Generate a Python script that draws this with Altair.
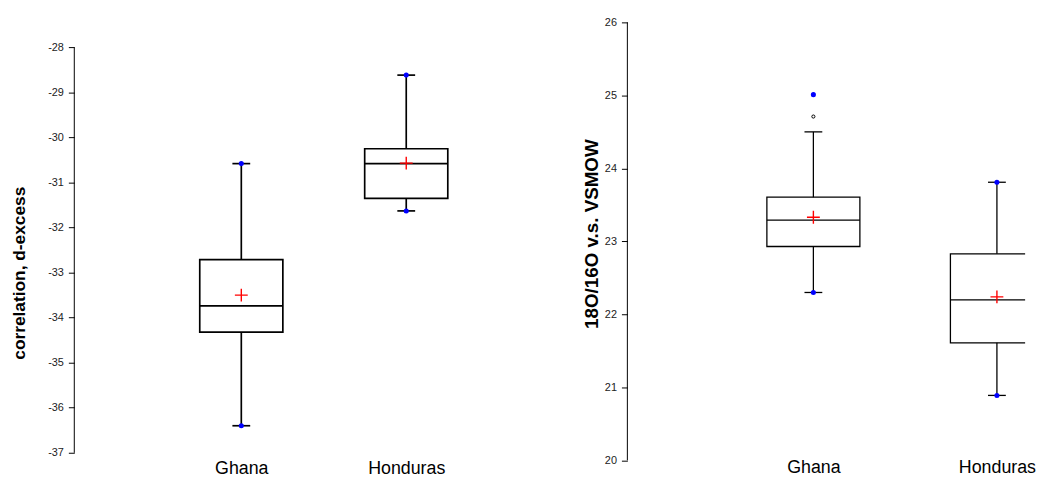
import altair as alt
import pandas as pd

groups = ["Ghana", "Honduras"]

# Left panel: correlation, d-excess
dx_wlow = [-36.40, -31.63]
dx_q1 = [-34.32, -31.35]
dx_median = [-33.74, -30.58]
dx_q3 = [-32.71, -30.25]
dx_whigh = [-30.58, -28.615]
dx_mean = [-33.50, -30.57]
dx_min = [-36.40, -31.63]
dx_max = [-30.58, -28.615]
dx_ticks = [-37, -36, -35, -34, -33, -32, -31, -30, -29, -28]

# Right panel: 18O/16O v.s. VSMOW
o_wlow = [22.30, 20.89]
o_q1 = [22.93, 21.61]
o_median = [23.29, 22.20]
o_q3 = [23.605, 22.83]
o_whigh = [24.50, 23.81]
o_mean = [23.33, 22.24]
o_min = [22.30, 20.89]
o_max = [25.01, 23.81]
o_out_group = ["Ghana"]
o_out_value = [24.71]
o_ticks = [20, 21, 22, 23, 24, 25, 26]

PLUS = "M-1,0L1,0M0,-1L0,1"


def panel(wlow, q1, med, q3, whigh, mean, vmin, vmax, out_g, out_v,
          title, domain, ticks, width, height, xrange, box_w, lw,
          title_size, title_pad, title_y, label_pad_x, x_font):
    stats = pd.DataFrame({"group": groups, "wlow": wlow, "q1": q1, "median": med,
                          "q3": q3, "whigh": whigh, "mean": mean})
    caps = pd.DataFrame({"group": groups + groups, "v": wlow + whigh})
    dots = pd.DataFrame({"group": groups + groups, "v": vmin + vmax})
    outl = pd.DataFrame({"group": out_g, "v": out_v})
    axis_line = pd.DataFrame({"lo": [min(ticks)], "hi": [max(ticks)]})

    xenc = alt.X("group:N",
                 scale=alt.Scale(type="point", domain=groups, range=xrange, padding=0),
                 axis=alt.Axis(title=None, domain=False, ticks=False, labelAngle=0,
                               labelFont="Liberation Sans", labelFontSize=x_font,
                               labelColor="black", labelPadding=label_pad_x, grid=False))
    yscale = alt.Scale(domain=domain, nice=False, zero=False)
    yaxis = alt.Axis(title=title, values=ticks, labelExpr="datum.value + ''", grid=False,
                     domain=False, tickColor="black", tickSize=6, labelPadding=5,
                     labelFont="Liberation Sans", labelFontSize=11, labelColor="#222222",
                     titleFont="Liberation Sans", titleFontSize=title_size,
                     titleFontWeight="bold", titleColor="black", titlePadding=title_pad,
                     titleY=title_y)

    base = alt.Chart(stats)
    axl = alt.Chart(axis_line).mark_rule(color="black", strokeWidth=1).encode(
        x=alt.value(0), y=alt.Y("lo:Q", scale=yscale, axis=yaxis), y2="hi:Q")
    rule = base.mark_rule(color="black", strokeWidth=lw).encode(
        x=xenc, y=alt.Y("wlow:Q", scale=yscale, axis=yaxis), y2="whigh:Q")
    box = base.mark_bar(size=box_w, fill="white", stroke="black", strokeWidth=lw,
                        clip=True, opacity=1).encode(
        x=xenc, y=alt.Y("q1:Q", scale=yscale, axis=yaxis), y2="q3:Q")
    median = base.mark_tick(size=box_w, thickness=lw, color="black", clip=True,
                            opacity=1).encode(
        x=xenc, y=alt.Y("median:Q", scale=yscale, axis=yaxis))
    cap = alt.Chart(caps).mark_tick(size=18, thickness=lw, color="black",
                                    opacity=1).encode(
        x=xenc, y=alt.Y("v:Q", scale=yscale, axis=yaxis))
    plus = base.mark_point(shape=PLUS, size=169, stroke="#ff0000", filled=False,
                           strokeWidth=1.4, opacity=1).encode(
        x=xenc, y=alt.Y("mean:Q", scale=yscale, axis=yaxis))
    dot = alt.Chart(dots).mark_circle(size=26, color="#0000ff", opacity=1).encode(
        x=xenc, y=alt.Y("v:Q", scale=yscale, axis=yaxis))
    out = alt.Chart(outl).mark_point(shape="circle", size=10, filled=False,
                                     stroke="black", strokeWidth=1, opacity=1).encode(
        x=xenc, y=alt.Y("v:Q", scale=yscale, axis=yaxis))
    return alt.layer(axl, rule, box, median, cap, plus, dot, out).properties(
        width=width, height=height)


left = panel(dx_wlow, dx_q1, dx_median, dx_q3, dx_whigh, dx_mean, dx_min, dx_max, [], [],
             "correlation, d-excess", [-37, -27.444], dx_ticks, 502, 435,
             [168.8, 335.5], 84, 1.7, 17.5, 19, 253, 7, 18)

right = panel(o_wlow, o_q1, o_median, o_q3, o_whigh, o_mean, o_min, o_max,
              o_out_group, o_out_value,
              "18O/16O v.s. VSMOW", [20, 26], o_ticks, 402, 442.7,
              [188, 373.5], 94, 1.3, 19, 3, 213.5, -2, 18)

chart = alt.hconcat(left, right, spacing=11).properties(
    padding={"left": 3, "top": 6, "right": 0, "bottom": 0},
    background="white"
).configure_view(strokeWidth=0, stroke=None)

chart.save("out.html", embed_options={"renderer": "svg", "actions": False})
